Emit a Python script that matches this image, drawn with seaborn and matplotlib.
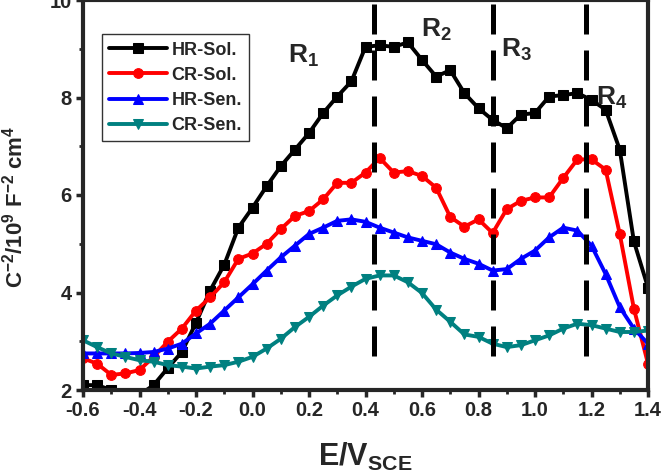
import matplotlib
matplotlib.use("Agg")
import matplotlib.pyplot as plt
import seaborn as sns
import numpy as np
import pandas as pd
from matplotlib.ticker import MultipleLocator

potential = [-0.6, -0.55, -0.5, -0.45, -0.4, -0.35, -0.3, -0.25, -0.2, -0.15, -0.1, -0.05,
             0.0, 0.05, 0.1, 0.15, 0.2, 0.25, 0.3, 0.35, 0.4, 0.45, 0.5, 0.55, 0.6, 0.65,
             0.7, 0.75, 0.8, 0.85, 0.9, 0.95, 1.0, 1.05, 1.1, 1.15, 1.2, 1.25, 1.3, 1.35, 1.4]

hr_sol = [2.1, 2.1, 2.0, 1.9, 1.9, 2.1, 2.45, 2.78, 3.38, 4.04, 4.57, 5.33,
          5.74, 6.18, 6.59, 6.93, 7.27, 7.68, 8.02, 8.33, 9.04, 9.07, 9.04, 9.13, 8.77, 8.43,
          8.56, 8.09, 7.78, 7.54, 7.37, 7.65, 7.68, 8.02, 8.05, 8.09, 7.95, 7.75, 6.93, 5.05, 4.1]

cr_sol = [2.65, 2.54, 2.31, 2.34, 2.41, 2.68, 2.99, 3.26, 3.63, 3.9, 4.21, 4.69,
          4.8, 5.0, 5.3, 5.57, 5.67, 5.91, 6.25, 6.25, 6.46, 6.76, 6.46, 6.49, 6.39, 6.15,
          5.55, 5.35, 5.5, 5.22, 5.71, 5.88, 5.95, 5.95, 6.35, 6.73, 6.73, 6.52, 5.2, 3.67, 2.54]

hr_sen = [2.75, 2.75, 2.75, 2.75, 2.76, 2.78, 2.85, 2.95, 3.16, 3.36, 3.63, 3.9,
          4.17, 4.45, 4.72, 4.96, 5.2, 5.33, 5.47, 5.5, 5.45, 5.33, 5.23, 5.13, 5.06, 4.99,
          4.82, 4.69, 4.59, 4.45, 4.48, 4.69, 4.86, 5.13, 5.33, 5.27, 4.96, 4.38, 3.7, 3.26, 2.95]

cr_sen = [3.02, 2.88, 2.75, 2.68, 2.61, 2.58, 2.51, 2.48, 2.44, 2.48, 2.51, 2.58,
          2.68, 2.85, 3.05, 3.29, 3.5, 3.73, 3.94, 4.12, 4.28, 4.35, 4.35, 4.21, 3.99, 3.65,
          3.4, 3.14, 3.09, 2.95, 2.88, 2.92, 3.02, 3.12, 3.26, 3.36, 3.33, 3.26, 3.19, 3.19, 3.22]

series_names = ["HR-Sol.", "CR-Sol.", "HR-Sen.", "CR-Sen."]
series_values = [hr_sol, cr_sol, hr_sen, cr_sen]
series_colors = ["#000000", "#ff0000", "#0000ff", "#008080"]
series_markers = ["s", "o", "^", "v"]

region_bounds = [0.43, 0.85, 1.18]
region_labels = ["R$_1$", "R$_2$", "R$_3$", "R$_4$"]
region_label_pos = [(0.18, 8.85), (0.65, 9.38), (0.935, 8.98), (1.27, 8.0)]

x_ticks = [-0.6, -0.4, -0.2, 0.0, 0.2, 0.4, 0.6, 0.8, 1.0, 1.2, 1.4]
y_ticks = [2, 4, 6, 8, 10]

sns.set_theme(style="ticks")
plt.rcParams['font.family'] = ['Liberation Sans', 'DejaVu Sans']
plt.rcParams['font.weight'] = 'bold'
plt.rcParams['mathtext.fontset'] = 'custom'
plt.rcParams['mathtext.rm'] = 'Liberation Sans:bold'
plt.rcParams['mathtext.bf'] = 'Liberation Sans:bold'
plt.rcParams['mathtext.it'] = 'Liberation Sans:bold'
plt.rcParams['mathtext.default'] = 'bf'

df = pd.DataFrame({"E": np.tile(potential, 4),
                   "C": np.concatenate(series_values),
                   "series": np.repeat(series_names, len(potential))})

fig = plt.figure(figsize=(6.64, 4.76), dpi=100)
ax = fig.add_axes([83 / 664, 1 - 390 / 476, (648 - 83) / 664, 390 / 476])

for name, col, mk in zip(series_names, series_colors, series_markers):
    sub = df[df["series"] == name]
    sns.lineplot(data=sub, x="E", y="C", ax=ax, color=col, marker=mk, markersize=7,
                 markeredgecolor=col, linewidth=2.8, label=name, clip_on=True)

for xb in region_bounds:
    ax.plot([xb, xb], [2.7, 10], color="black", linewidth=3.6, linestyle=(0, (6, 3.2)))

for lab, (lx, ly) in zip(region_labels, region_label_pos):
    ax.text(lx, ly, lab, fontsize=19, fontweight='bold', ha='center', va='center')

ax.set_xlim(-0.6, 1.4)
ax.set_ylim(2, 10)
ax.set_xticks(x_ticks)
ax.set_xticklabels([f"{v:.1f}" for v in x_ticks])
ax.set_yticks(y_ticks)
ax.xaxis.set_minor_locator(MultipleLocator(0.1))
ax.yaxis.set_minor_locator(MultipleLocator(1))
ax.tick_params(axis='both', which='major', direction='out', length=5, width=2.5,
               labelsize=14.5, pad=3)
ax.tick_params(axis='both', which='minor', direction='out', length=3, width=2)
for lbl in ax.get_xticklabels() + ax.get_yticklabels():
    lbl.set_fontweight('bold')
for sp in ax.spines.values():
    sp.set_linewidth(3)
    sp.set_visible(True)

ax.set_xlabel("E/V$_{SCE}$", fontsize=22, fontweight='bold')
ax.xaxis.set_label_coords(0.5, -0.13)
ax.set_ylabel("C$^{-2}$/10$^{9}$ F$^{-2}$ cm$^{4}$", fontsize=16, fontweight='bold')
ax.yaxis.set_label_coords(-0.098, 0.47)

leg = ax.legend(loc='upper left', bbox_to_anchor=(0.018, 0.935), fontsize=13,
                handlelength=3.2, handletextpad=0.25, labelspacing=0.45,
                frameon=True, fancybox=False, edgecolor='black', borderpad=0.4)
leg.get_frame().set_linewidth(1.0)
for t in leg.get_texts():
    t.set_fontweight('bold')

fig.savefig("out.png", dpi=100)
